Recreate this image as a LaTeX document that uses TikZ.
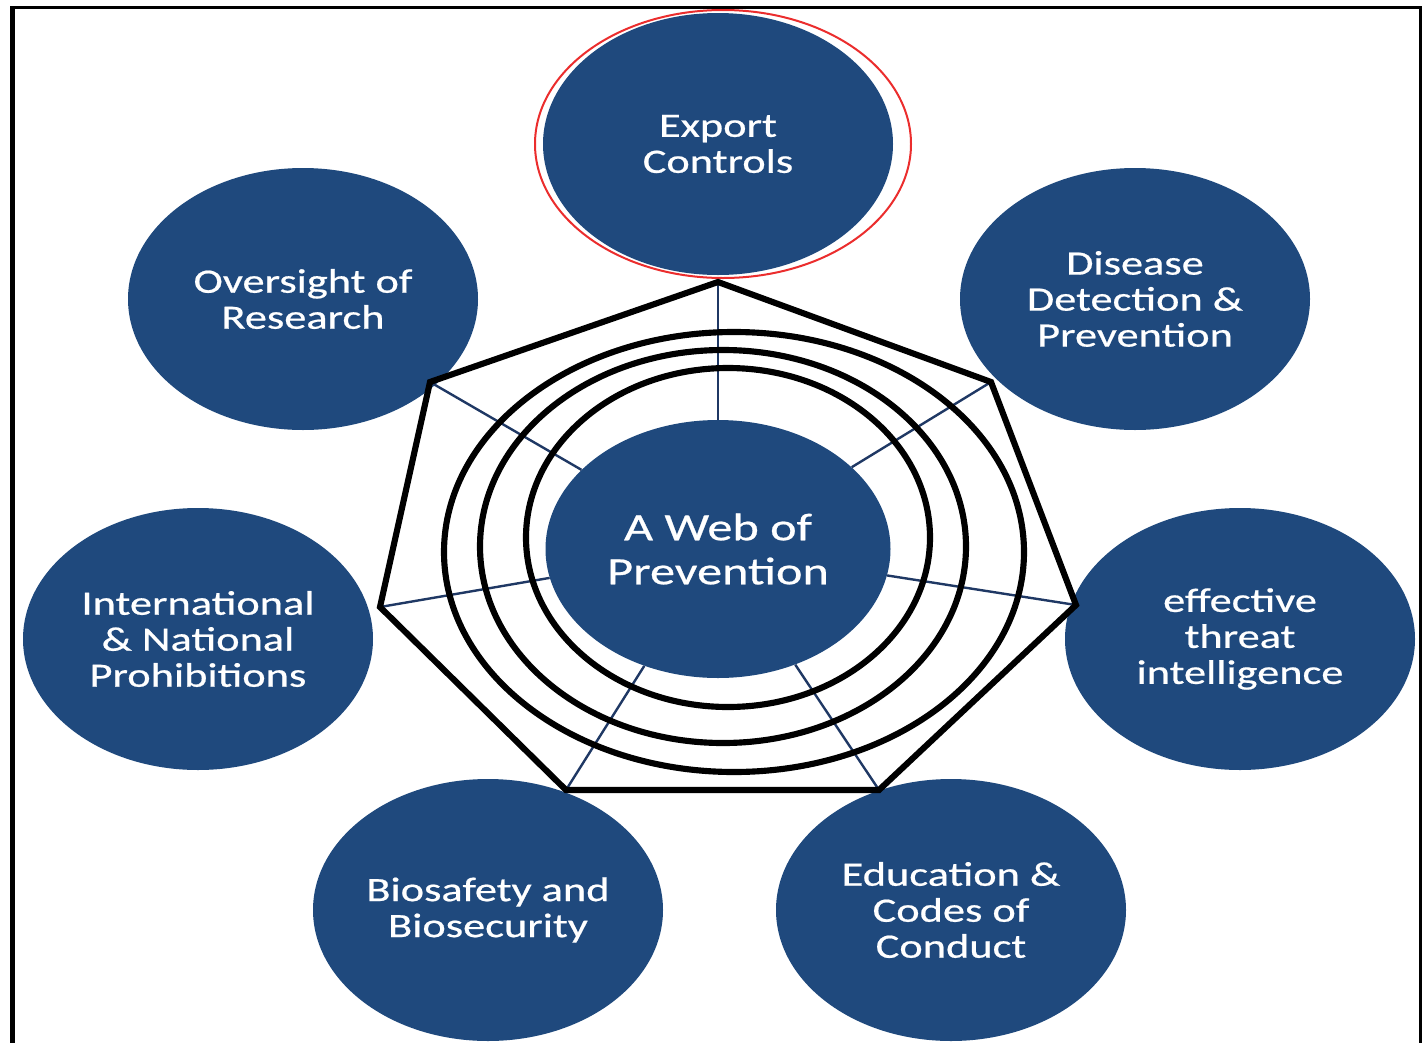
\documentclass[tikz,border=0pt]{standalone}
\usepackage{fontspec}
\setmainfont{Carlito}
\newfontfamily\lblfont[FakeStretch=1.3,FakeBold=0.6]{Carlito}
\usetikzlibrary{shapes.geometric}
\definecolor{nodeblue}{RGB}{31,73,125}
\definecolor{spokeblue}{RGB}{31,56,100}
\definecolor{halored}{RGB}{235,45,45}
\begin{document}
\begin{tikzpicture}[x=0.75pt,y=-0.75pt,
  bubble/.style={ellipse, fill=nodeblue, draw=none, inner sep=0pt,
    minimum width=262.5pt, minimum height=196.5pt, text=white, align=center,
    font=\lblfont\fontsize{25.6}{27}\selectfont},
  hub/.style={bubble, minimum width=258.75pt, minimum height=193.5pt,
    font=\lblfont\fontsize{29}{33}\selectfont},
  ring/.style={ellipse, draw=black, line width=4.6pt, inner sep=0pt},
  webline/.style={draw=black, line width=4.6pt, line join=miter},
  spoke/.style={draw=spokeblue, line width=1.8pt},
  frame/.style={draw=black}]
\useasboundingbox (0,0) rectangle (1422,1043);
% frame
\draw[frame, line width=2.25pt] (10,7.5) -- (1420.5,7.5) -- (1420.5,1043);
\draw[frame, line width=3.75pt] (12.5,6) -- (12.5,1043);
% bubbles
\node[bubble] (export) at (718,144) {Export\\Controls};
\node[ellipse, draw=halored, line width=1.5pt, inner sep=0pt, minimum width=282pt, minimum height=201pt] (exporthalo) at (723,144) {};
\node[bubble] (oversight) at (303,299) {Oversight of\\Research};
\node[bubble] (disease) at (1135,299) {Disease\\Detection \&\\Prevention};
\node[bubble] (intl) at (198,639) {International\\\& National\\Prohibitions};
\node[bubble] (threat) at (1240,639) {effective\\threat\\intelligence};
\node[bubble] (bio) at (488,910) {Biosafety and\\Biosecurity};
\node[bubble] (edu) at (951,910) {Education \&\\Codes of\\Conduct};
\node[hub] (hub) at (718,549) {A Web of\\Prevention};
% heptagon vertices
\coordinate (vT) at (718,282);
\coordinate (vUR) at (991,382);
\coordinate (vR) at (1076,605);
\coordinate (vBR) at (879,790);
\coordinate (vBL) at (566,790);
\coordinate (vL) at (380,607);
\coordinate (vUL) at (430,382);
% spokes
\foreach \v in {vT,vUR,vR,vBR,vBL,vL,vUL}
  \draw[spoke] (\v) -- (hub);
% rings
\node[ring, minimum width=303pt, minimum height=254.25pt] (ringA) at (728,537.5) {};
\node[ring, minimum width=364.5pt, minimum height=294.75pt] (ringB) at (723,546.5) {};
\node[ring, minimum width=435pt, minimum height=330pt] (ringC) at (734,552) {};
% heptagon
\draw[webline] (vT) -- (vUR) -- (vR) -- (vBR) -- (vBL) -- (vL) -- (vUL) -- cycle;
\end{tikzpicture}
\end{document}
